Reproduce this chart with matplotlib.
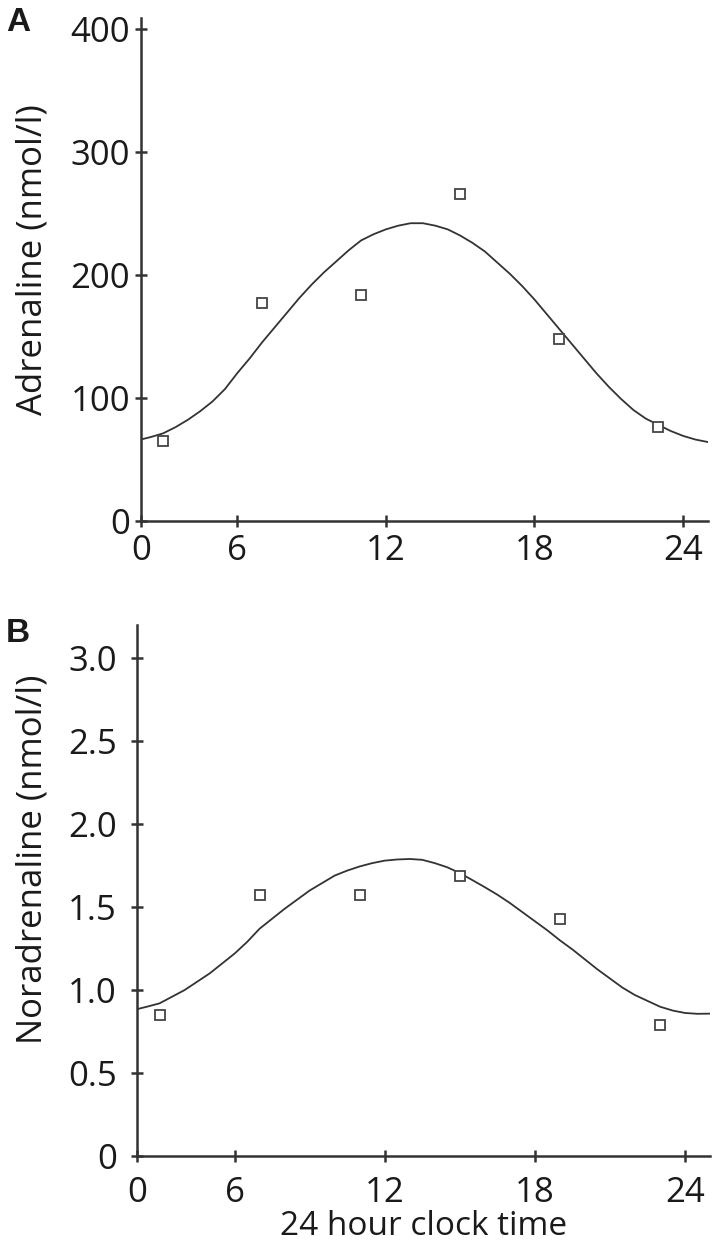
import matplotlib
matplotlib.use("Agg")
import matplotlib.pyplot as plt

# sampling times (24 h clock) and measured means
sample_hours = [3, 7, 11, 15, 19, 23]
adrenaline = [65, 177, 184, 266, 148, 76]
noradrenaline = [0.85, 1.57, 1.57, 1.69, 1.43, 0.79]

# fitted curve, every half hour
curve_hours = [2.1, 2.5, 3, 3.5, 4, 4.5, 5, 5.5, 6, 6.5, 7, 7.5, 8, 8.5, 9, 9.5, 10, 10.5, 11, 11.5,
               12, 12.5, 13, 13.5, 14, 14.5, 15, 15.5, 16, 16.5, 17, 17.5, 18, 18.5, 19, 19.5,
               20, 20.5, 21, 21.5, 22, 22.5, 23, 23.5, 24, 24.5, 25]
adrenaline_fit = [66, 68, 71, 76, 82, 89, 97, 107, 120, 132, 145, 157, 169, 181, 192, 202, 211, 220,
                  228, 233, 237, 240, 242, 242, 240, 237, 232, 226, 219, 210, 201, 191, 180, 168,
                  156, 144, 132, 120, 109, 99, 90, 83, 78, 73, 69, 66, 64]
noradrenaline_fit = [0.885, 0.90, 0.92, 0.96, 1.00, 1.05, 1.10, 1.16, 1.22, 1.29, 1.37, 1.43, 1.49,
                     1.545, 1.60, 1.645, 1.69, 1.72, 1.745, 1.765, 1.78, 1.787, 1.79, 1.785, 1.765,
                     1.74, 1.705, 1.663, 1.62, 1.575, 1.525, 1.47, 1.415, 1.36, 1.30, 1.245, 1.185,
                     1.125, 1.07, 1.015, 0.97, 0.935, 0.90, 0.877, 0.862, 0.857, 0.858]

x_ticks = [2.1, 6, 12, 18, 24]
x_ticklabels = ["0", "6", "12", "18", "24"]
a_ticks = [0, 100, 200, 300, 400]
n_ticks = [0, 0.5, 1.0, 1.5, 2.0, 2.5, 3.0]
n_ticklabels = ["0", "0.5", "1.0", "1.5", "2.0", "2.5", "3.0"]

FONT = "Open Sans"
INK = "#1a1a1a"
LINE = "#333333"


def style_axis(ax, xpad, ypad):
    for side in ["top", "right"]:
        ax.spines[side].set_visible(False)
    for side in ["left", "bottom"]:
        ax.spines[side].set_linewidth(1.8)
        ax.spines[side].set_color(LINE)
    ax.tick_params(direction="inout", length=9, width=1.8, color=LINE,
                   labelsize=25, labelcolor=INK)
    ax.tick_params(axis="x", pad=xpad)
    ax.tick_params(axis="y", pad=ypad)
    for lab in ax.get_xticklabels() + ax.get_yticklabels():
        lab.set_family(FONT)
    ax.set_xlim(2.1, 25)


def draw_panel(ax, fit, values, ylabel):
    ax.plot(curve_hours, fit, color=LINE, lw=1.3, zorder=2)
    ax.plot(sample_hours, values, ls="none", marker="s", ms=6.5, mfc="white",
            mec="#444444", mew=1.3, zorder=3)
    ax.set_xticks(x_ticks)
    ax.set_xticklabels(x_ticklabels)
    ax.set_ylabel(ylabel, fontsize=25, family=FONT, color=INK)


def main():
    fig = plt.figure(figsize=(7.2, 12.48), dpi=100)

    ax1 = fig.add_axes([0.1954, 0.5828, 0.7876, 0.4028])
    draw_panel(ax1, adrenaline_fit, adrenaline, "Adrenaline (nmol/l)")
    ax1.set_ylim(0, 409)
    ax1.set_yticks(a_ticks)
    style_axis(ax1, 5, 3)
    ax1.yaxis.set_label_coords(0.069, 0.7917, transform=fig.transFigure)

    ax2 = fig.add_axes([0.1903, 0.0737, 0.7958, 0.4255])
    draw_panel(ax2, noradrenaline_fit, noradrenaline, "Noradrenaline (nmol/l)")
    ax2.set_ylim(0, 3.2)
    ax2.set_yticks(n_ticks)
    ax2.set_yticklabels(n_ticklabels)
    ax2.set_xlabel("24 hour clock time", fontsize=24, family=FONT, color=INK, labelpad=0)
    style_axis(ax2, 10, 10)
    ax2.yaxis.set_label_coords(0.069, 0.3117, transform=fig.transFigure)

    fig.text(0.008, 0.994, "A", fontsize=24, fontweight="bold", family="Liberation Sans",
             va="top", ha="left", color=INK)
    fig.text(0.008, 0.505, "B", fontsize=24, fontweight="bold", family="Liberation Sans",
             va="top", ha="left", color=INK)

    fig.savefig("out.png", dpi=100)


if __name__ == "__main__":
    main()
